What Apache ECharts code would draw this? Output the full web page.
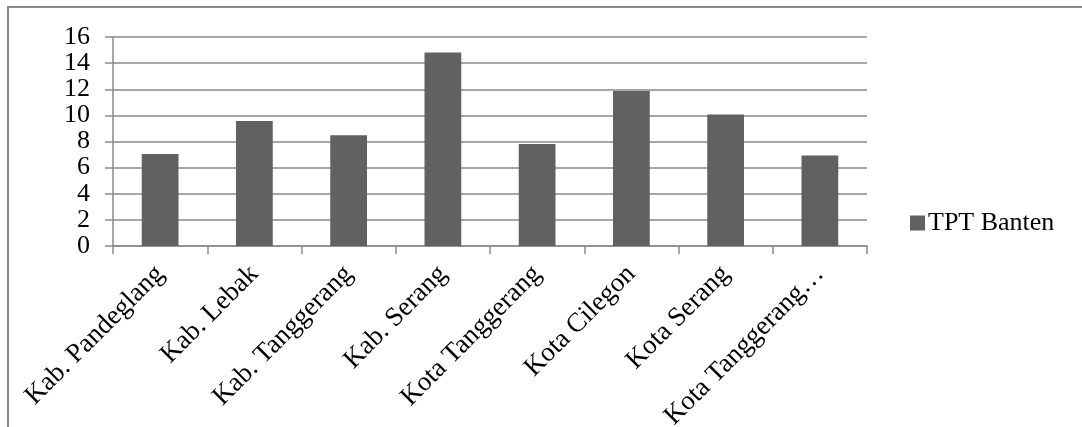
<!DOCTYPE html>
<html lang="id">
<head>
    <meta charset="UTF-8">
    <title>TPT Banten</title>
    <script src="https://cdn.jsdelivr.net/npm/echarts@6/dist/echarts.min.js"></script>
    <style>
        html, body { margin: 0; padding: 0; background: #fff; }
        #main { width: 1082px; height: 427px; }
    </style>
</head>
<body>
    <div id="main"></div>
    <script type="text/javascript">
        // data
        var categories = ['Kab. Pandeglang', 'Kab. Lebak', 'Kab. Tanggerang', 'Kab. Serang',
            'Kota Tanggerang', 'Kota Cilegon', 'Kota Serang', 'Kota Tanggerang Selatan'];
        var tptValues = [7.04, 9.57, 8.48, 14.81, 7.81, 11.87, 10.06, 6.92];
        var yTicks = [0, 2, 4, 6, 8, 10, 12, 14, 16];
        var seriesName = 'TPT Banten';

        var font = 'Liberation Serif';
        var myChart = echarts.init(document.getElementById('main'));
        var option = {
            animation: false,
            graphic: [{
                type: 'rect',
                shape: { x: 8, y: 7, width: 1300, height: 600 },
                style: { fill: 'none', stroke: '#8a8a8a', lineWidth: 2 },
                silent: true
            }],
            legend: {
                data: [seriesName],
                left: 905,
                top: 205,
                icon: 'rect',
                itemWidth: 15,
                itemHeight: 15,
                itemGap: 4,
                itemStyle: { borderWidth: 0 },
                textStyle: { fontFamily: font, fontSize: 26, color: '#000', padding: [0, 0, 0, -2] }
            },
            grid: { left: 113, right: 215, top: 37, bottom: 181, outerBoundsMode: 'none' },
            xAxis: {
                type: 'category',
                data: categories,
                axisLine: { lineStyle: { color: '#8a8a8a', width: 1.5 } },
                axisTick: { show: true, length: 8, lineStyle: { color: '#8a8a8a', width: 1.5 } },
                axisLabel: {
                    rotate: 45,
                    margin: 24,
                    color: '#000',
                    fontFamily: font,
                    fontSize: 27,
                    formatter: function (v) {
                        return v.length > 16 ? v.slice(0, 15) + '…' : v;
                    }
                }
            },
            yAxis: {
                type: 'value',
                min: yTicks[0],
                max: yTicks[yTicks.length - 1],
                interval: 2,
                axisLine: { show: true, lineStyle: { color: '#8a8a8a', width: 1.5 } },
                axisTick: { show: true, length: 8, lineStyle: { color: '#8a8a8a', width: 1.5 } },
                splitLine: { lineStyle: { color: '#8a8a8a', width: 1.5 } },
                axisLabel: { margin: 23, color: '#000', fontFamily: font, fontSize: 26 }
            },
            series: [{
                name: seriesName,
                type: 'bar',
                data: tptValues,
                barCategoryGap: '61%',
                itemStyle: { color: '#616161' }
            }]
        };
        myChart.setOption(option);
    </script>
</body>
</html>
